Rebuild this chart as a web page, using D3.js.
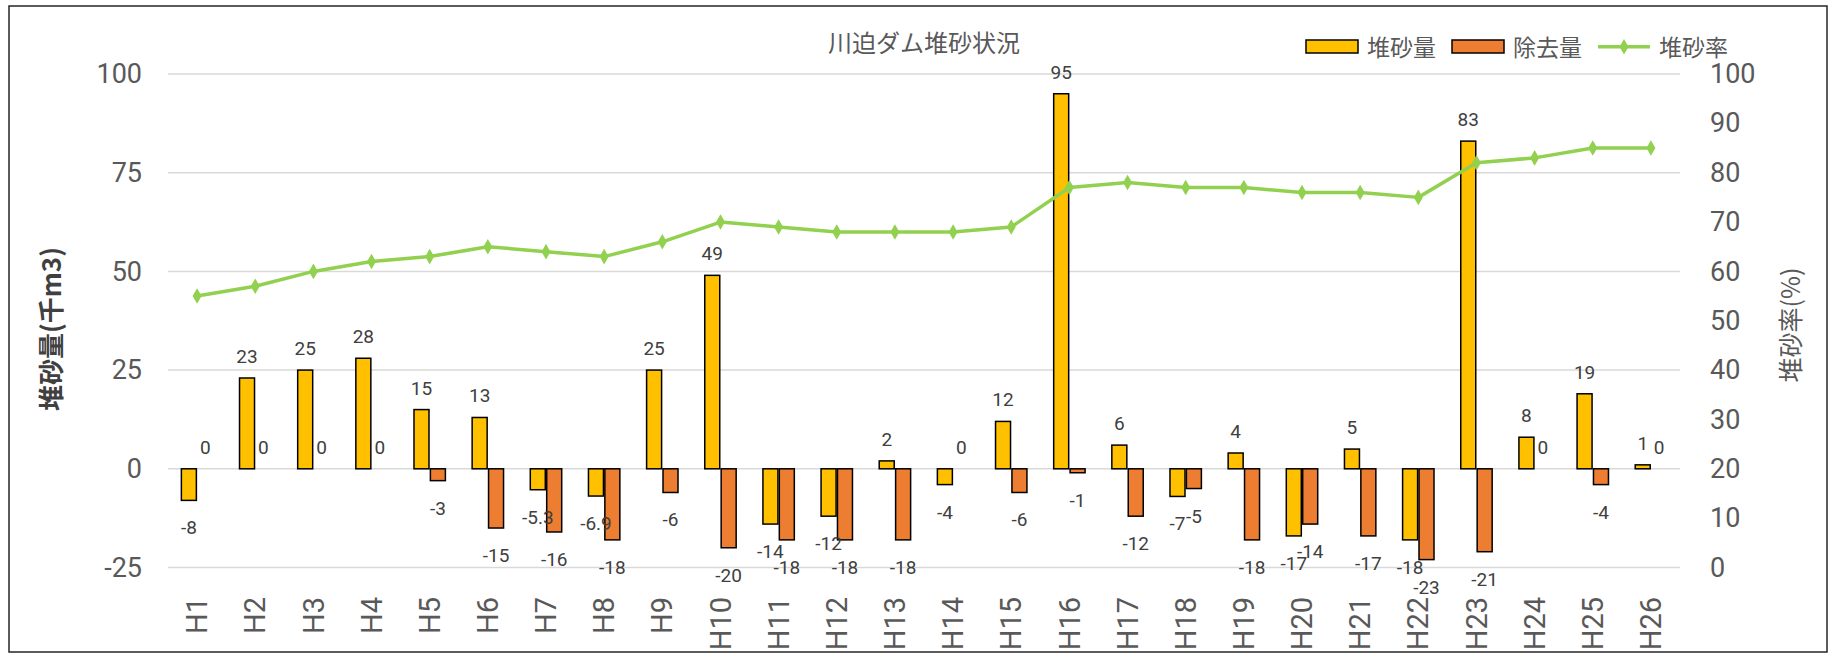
<!DOCTYPE html>
<html>
<head>
<meta charset="utf-8">
<script src="https://cdn.jsdelivr.net/npm/d3@7"></script>
<style>
  body { margin: 0; background: #fff; }
  svg { display: block; }
  .num { font-family: "Liberation Sans Narrow", "Roboto", sans-serif; }
  .jp { font-family: "Noto Sans CJK JP", "Noto Sans", sans-serif; }
</style>
</head>
<body>
<svg id="chart-svg" width="1834" height="655"></svg>
<script>
// 年度
var years = ["H1","H2","H3","H4","H5","H6","H7","H8","H9","H10","H11","H12","H13",
	"H14","H15","H16","H17","H18","H19","H20","H21","H22","H23","H24","H25","H26"];
// 堆砂量 (千m3)
var sediment = [-8, 23, 25, 28, 15, 13, -5.3, -6.9, 25, 49, -14, -12, 2,
	-4, 12, 95, 6, -7, 4, -17, 5, -18, 83, 8, 19, 1];
// 除去量 (千m3)
var removed = [0, 0, 0, 0, -3, -15, -16, -18, -6, -20, -18, -18, -18,
	0, -6, -1, -12, -5, -18, -14, -17, -23, -21, 0, -4, 0];
// 堆砂率 (%)
var rate = [55, 57, 60, 62, 63, 65, 64, 63, 66, 70, 69, 68, 68,
	68, 69, 77, 78, 77, 77, 76, 76, 75, 82, 83, 85, 85];
var leftTicks = [-25, 0, 25, 50, 75, 100];
var rightTicks = [0, 10, 20, 30, 40, 50, 60, 70, 80, 90, 100];

var svg = d3.select("#chart-svg");
var plotLeft = 168, plotRight = 1680, plotTop = 74, plotBottom = 567.5;

var x = d3.scaleBand().domain(years).range([plotLeft, plotRight]).padding(0);
var yL = d3.scaleLinear().domain([-25, 100]).range([plotBottom, plotTop]);
var yR = d3.scaleLinear().domain([0, 100]).range([plotBottom, plotTop]);
var barW = 15;
// plain hyphen for negatives, like the original sheet
var fmt = function(d) { return String(d); };

// frame
svg.append("rect")
	.attr("x", 9).attr("y", 6).attr("width", 1818).attr("height", 646)
	.attr("fill", "none").attr("stroke", "#262626").attr("stroke-width", 1.5);

// gridlines
svg.append("g").selectAll("line").data(leftTicks).join("line")
	.attr("x1", plotLeft).attr("x2", plotRight)
	.attr("y1", function(d) { return yL(d); })
	.attr("y2", function(d) { return yL(d); })
	.attr("stroke", "#d9d9d9").attr("stroke-width", 1.5);

// left axis
var axL = svg.append("g").attr("transform", "translate(" + (plotLeft - 26) + ",0)")
	.call(d3.axisLeft(yL).tickValues(leftTicks).tickFormat(fmt).tickSize(0).tickPadding(0));
axL.select(".domain").remove();
axL.selectAll("text").attr("class", "num").attr("font-size", 27).attr("fill", "#595959");

// right axis
var axR = svg.append("g").attr("transform", "translate(" + (plotRight + 30) + ",0)")
	.call(d3.axisRight(yR).tickValues(rightTicks).tickFormat(fmt).tickSize(0).tickPadding(0));
axR.select(".domain").remove();
axR.selectAll("text").attr("class", "num").attr("font-size", 27).attr("fill", "#595959");

// x labels
svg.append("g").selectAll("text").data(years).join("text")
	.attr("class", "num")
	.attr("transform", function(d) {
		return "translate(" + (x(d) + x.bandwidth() / 2) + ",597) rotate(-90)";
	})
	.attr("text-anchor", "end")
	.attr("dy", "0.35em")
	.attr("font-size", 29)
	.attr("fill", "#595959")
	.text(function(d) { return d; });

// bars
function barX(i, side) {
	var c = x(years[i]) + x.bandwidth() / 2;
	return side == 0 ? c - 0.7 - barW : c + 0.7;
}
function drawBars(values, side, color) {
	svg.append("g").selectAll("rect").data(values).join("rect")
		.attr("x", function(d, i) { return barX(i, side); })
		.attr("y", function(d) { return d >= 0 ? yL(d) : yL(0); })
		.attr("width", barW)
		.attr("height", function(d) { return Math.abs(yL(d) - yL(0)); })
		.attr("fill", color)
		.attr("stroke", function(d) { return d == 0 ? "none" : "#000"; })
		.attr("stroke-width", 1.5);
}
drawBars(sediment, 0, "#ffc000");
drawBars(removed, 1, "#ed7d31");

// rate line
var line = d3.line()
	.x(function(d, i) { return x(years[i]) + x.bandwidth() / 2; })
	.y(function(d) { return yR(d); });
svg.append("path").datum(rate)
	.attr("d", line)
	.attr("fill", "none").attr("stroke", "#92d050").attr("stroke-width", 3.5)
	.attr("stroke-linejoin", "round");
var diamond = d3.symbol().type(d3.symbolDiamond).size(70);
svg.append("g").selectAll("path").data(rate).join("path")
	.attr("d", diamond)
	.attr("transform", function(d, i) {
		return "translate(" + (x(years[i]) + x.bandwidth() / 2) + "," + yR(d) + ")";
	})
	.attr("fill", "#92d050");

// data labels
function drawLabels(values, side) {
	svg.append("g").selectAll("text").data(values).join("text")
		.attr("class", "num")
		.attr("x", function(d, i) { return barX(i, side) + barW / 2; })
		.attr("y", function(d) { return d >= 0 ? yL(d) - 15 : yL(d) + 34; })
		.attr("text-anchor", "middle")
		.attr("font-size", 19)
		.attr("fill", "#404040")
		.text(fmt);
}
drawLabels(sediment, 0);
drawLabels(removed, 1);

// title
svg.append("text").attr("class", "jp")
	.attr("x", 924).attr("y", 52)
	.attr("text-anchor", "middle").attr("font-size", 24).attr("fill", "#595959")
	.text("川迫ダム堆砂状況");

// axis titles
svg.append("text").attr("class", "jp")
	.attr("transform", "translate(52,329) rotate(-90)")
	.attr("text-anchor", "middle").attr("dy", "0.35em")
	.attr("font-size", 26).attr("font-weight", "bold").attr("fill", "#404040")
	.text("堆砂量(千m3)");
svg.append("text").attr("class", "jp")
	.attr("transform", "translate(1791,325) rotate(-90)")
	.attr("text-anchor", "middle").attr("dy", "0.35em")
	.attr("font-size", 25).attr("fill", "#595959")
	.text("堆砂率(%)");

// legend
var legend = svg.append("g").attr("class", "jp");
var legendItems = [
	{ name: "堆砂量", color: "#ffc000", type: "bar", x: 1306 },
	{ name: "除去量", color: "#ed7d31", type: "bar", x: 1452 },
	{ name: "堆砂率", color: "#92d050", type: "line", x: 1598 }
];
legendItems.forEach(function(item) {
	if (item.type == "bar") {
		legend.append("rect")
			.attr("x", item.x).attr("y", 40).attr("width", 52).attr("height", 13)
			.attr("fill", item.color).attr("stroke", "#000").attr("stroke-width", 1.5);
	} else {
		legend.append("line")
			.attr("x1", item.x).attr("x2", item.x + 52).attr("y1", 46.7).attr("y2", 46.7)
			.attr("stroke", item.color).attr("stroke-width", 3.5);
		legend.append("path").attr("d", diamond)
			.attr("transform", "translate(" + (item.x + 26) + ",46.7)")
			.attr("fill", item.color);
	}
	legend.append("text")
		.attr("x", item.x + 61).attr("y", 56)
		.attr("font-size", 23).attr("fill", "#595959")
		.text(item.name);
});
</script>
</body>
</html>
